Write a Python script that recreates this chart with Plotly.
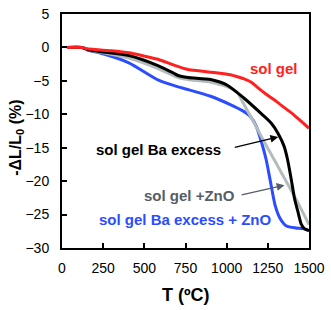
import plotly.graph_objects as go

# --- data ---
red_x = [30, 120, 150, 200, 300, 406, 500, 586, 675, 765, 830, 902, 960, 1022, 1060, 1106, 1150, 1183, 1240, 1303, 1350, 1404, 1450, 1500]
red_y = [0, 0, -0.2, -0.3, -0.5, -0.8, -1.3, -1.8, -2.6, -3.3, -3.5, -3.7, -3.85, -4.1, -4.35, -4.7, -5.2, -5.9, -7.0, -8.1, -9.0, -10.0, -11.0, -12.1]

black_x = [30, 120, 155, 227, 406, 586, 675, 705, 765, 902, 1004, 1106, 1210, 1270, 1313, 1349, 1370, 1392, 1412, 1432, 1452, 1472, 1500]
black_y = [0, 0, -0.3, -0.6, -1.2, -2.75, -3.8, -4.2, -4.5, -4.8, -5.65, -7.6, -9.9, -11.3, -12.9, -14.8, -16.8, -19.7, -22.6, -24.5, -26.4, -27.1, -27.4]

gray_x = [30, 124, 155, 227, 406, 586, 705, 765, 902, 1004, 1064, 1100, 1165, 1223, 1300, 1363, 1430, 1500]
gray_y = [0, 0, -0.3, -0.7, -1.6, -3.2, -4.5, -4.8, -5.2, -5.9, -6.7, -8.3, -11.2, -13.9, -17.3, -20.1, -23.1, -26.5]

blue_x = [30, 124, 155, 227, 406, 586, 705, 765, 902, 1022, 1106, 1143, 1180, 1213, 1240, 1263, 1293, 1323, 1363, 1420, 1462, 1500]
blue_y = [0, 0, -0.4, -0.8, -2.3, -4.9, -5.9, -6.3, -7.3, -8.55, -9.6, -10.3, -11.8, -14.3, -16.8, -19.7, -23.5, -25.5, -26.7, -27.0, -27.1, -27.4]

x_ticks = [0, 250, 500, 750, 1000, 1250, 1500]
y_ticks = [-30, -25, -20, -15, -10, -5, 0, 5]

FONT = "Liberation Sans, Arial, sans-serif"
RED = "#ff2020"
BLACK = "#000000"
GRAY = "#b4bcbc"
BLUE = "#2c4cff"
GRAY_TXT = "#555d66"

fig = go.Figure()
fig.add_trace(go.Scatter(x=blue_x, y=blue_y, mode="lines", line=dict(color=BLUE, width=3, shape="spline", smoothing=0.6)))
fig.add_trace(go.Scatter(x=gray_x, y=gray_y, mode="lines", line=dict(color=GRAY, width=3, shape="spline", smoothing=0.6)))
fig.add_trace(go.Scatter(x=black_x, y=black_y, mode="lines", line=dict(color=BLACK, width=3, shape="spline", smoothing=0.6)))
fig.add_trace(go.Scatter(x=red_x, y=red_y, mode="lines", line=dict(color=RED, width=3, shape="spline", smoothing=0.6)))

ann = [
    dict(x=1285, y=-3.2, text="<b>sol gel</b>", font=dict(color=RED, size=15, family=FONT), showarrow=False),
    dict(x=583, y=-15.2, text="<b>sol gel Ba excess</b>", font=dict(color=BLACK, size=15, family=FONT), showarrow=False),
    dict(x=773, y=-22.1, text="<b>sol gel +ZnO</b>", font=dict(color=GRAY_TXT, size=15, family=FONT), showarrow=False),
    dict(x=748, y=-25.7, text="<b>sol gel Ba excess + ZnO</b>", font=dict(color=BLUE, size=15, family=FONT), showarrow=False),
    dict(x=1313, y=-13.4, ax=1040, ay=-15.0, axref="x", ayref="y", text="", showarrow=True,
         arrowhead=2, arrowsize=1.2, arrowwidth=1.3, arrowcolor=BLACK),
    dict(x=1351, y=-20.6, ax=1082, ay=-22.1, axref="x", ayref="y", text="", showarrow=True,
         arrowhead=2, arrowsize=1.2, arrowwidth=1.3, arrowcolor=GRAY_TXT),
    dict(xref="paper", yref="paper", x=0.5, y=-0.2, xanchor="center", yanchor="middle", text="<b>T (ºC)</b>",
         showarrow=False, font=dict(size=18, color="black", family=FONT)),
    dict(xref="paper", yref="paper", x=-0.187, y=0.47, xanchor="center", yanchor="middle", textangle=-90,
         text="<b>-ΔL/L<sub>0</sub> (%)</b>", showarrow=False, font=dict(size=16, color="black", family=FONT)),
]

fig.update_layout(
    width=331, height=310,
    margin=dict(l=62, r=18, t=6, b=62),
    paper_bgcolor="white", plot_bgcolor="white",
    showlegend=False,
    annotations=ann,
    font=dict(family=FONT, color="black"),
)
fig.update_xaxes(range=[0, 1500], tickvals=x_ticks, ticks="inside", ticklen=5, tickwidth=1.5, tickcolor="black",
                 showline=True, linecolor="black", linewidth=2, mirror=True, showgrid=False, zeroline=False,
                 tickfont=dict(size=14, color="black", family=FONT), ticklabelstandoff=6, ticklabeloverflow="allow")
fig.update_yaxes(range=[-30, 5], tickvals=y_ticks, ticks="inside", ticklen=5, tickwidth=1.5, tickcolor="black",
                 showline=True, linecolor="black", linewidth=2, mirror=True, showgrid=False, zeroline=False,
                 tickfont=dict(size=14, color="black", family=FONT), ticklabelstandoff=8, ticklabeloverflow="allow")

fig.write_html("out.html", config={"displayModeBar": False},
               post_script="document.body.style.margin='0';document.body.style.padding='0';")
